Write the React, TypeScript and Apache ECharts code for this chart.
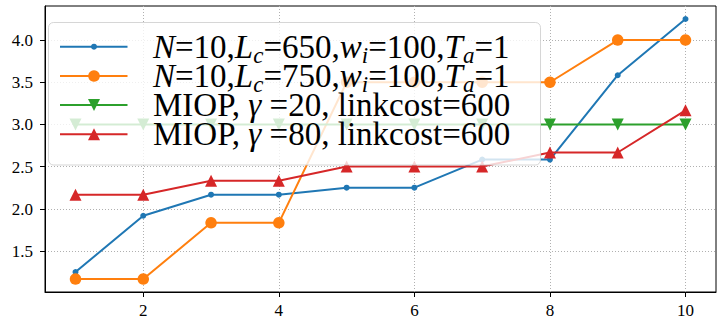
import React, { useEffect, useRef } from "react";
import * as echarts from "echarts";

const xValues = [1, 2, 3, 4, 5, 6, 7, 8, 9, 10];
const blueValues = [1.25, 1.917, 2.167, 2.167, 2.25, 2.25, 2.583, 2.583, 3.583, 4.25];
const orangeValues = [1.167, 1.167, 1.833, 1.833, 3.5, 3.5, 3.5, 3.5, 4.0, 4.0];
const greenValues = [3, 3, 3, 3, 3, 3, 3, 3, 3, 3];
const redValues = [2.167, 2.167, 2.333, 2.333, 2.5, 2.5, 2.5, 2.667, 2.667, 3.167];
const xTicks = [2, 4, 6, 8, 10];
const yTicks = [1.5, 2.0, 2.5, 3.0, 3.5, 4.0];
const X_MIN = 0.55;
const X_MAX = 10.45;
const Y_MIN = 1.013;
const Y_MAX = 4.404;

// legend label segments: [text, kind]  kind: rm = upright, it = italic, sub = italic subscript
const legend1: [string, string][] = [["N", "it"], ["=10,", "rm"], ["L", "it"], ["c", "sub"], ["=650,", "rm"], ["w", "it"], ["i", "sub"], ["=100,", "rm"], ["T", "it"], ["a", "sub"], ["=1", "rm"]];
const legend2: [string, string][] = [["N", "it"], ["=10,", "rm"], ["L", "it"], ["c", "sub"], ["=750,", "rm"], ["w", "it"], ["i", "sub"], ["=100,", "rm"], ["T", "it"], ["a", "sub"], ["=1", "rm"]];
const legend3: [string, string][] = [["MIOP, ", "rm"], ["γ", "it"], [" =20, linkcost=600", "rm"]];
const legend4: [string, string][] = [["MIOP, ", "rm"], ["γ", "it"], [" =80, linkcost=600", "rm"]];
const legendRows = [legend1, legend2, legend3, legend4];

const COLORS = ["#1f77b4", "#ff7f0e", "#2ca02c", "#d62728"];
const FONT = "Liberation Serif";

function pairs(vals: number[]) {
  return xValues.map((x, i) => [x, vals[i]]);
}

export default function App() {
  const ref = useRef<HTMLDivElement>(null);
  useEffect(() => {
    if (!ref.current) return;
    const chart = echarts.init(ref.current, null, { renderer: "svg" });

    const axisCommon = {
      axisLine: { show: true, onZero: false, lineStyle: { color: "#000", width: 1 } },
      splitLine: { show: true, lineStyle: { color: "#b0b0b0", type: [1, 2], width: 1 } },
    };

    chart.setOption({
      animation: false,
      grid: { left: 45, right: 2, top: 6, bottom: 30, show: true, borderColor: "#000", borderWidth: 1 },
      xAxis: {
        type: "value",
        min: X_MIN,
        max: X_MAX,
        ...axisCommon,
        axisTick: { show: true, customValues: xTicks, length: 5, lineStyle: { color: "#000" } },
        axisLabel: { show: false, customValues: xTicks },
      },
      yAxis: {
        type: "value",
        min: Y_MIN,
        max: Y_MAX,
        ...axisCommon,
        axisTick: { show: true, customValues: yTicks, length: 5, lineStyle: { color: "#000" } },
        axisLabel: { show: false, customValues: yTicks },
      },
      series: [
        {
          type: "line",
          data: pairs(blueValues),
          symbol: "circle",
          symbolSize: 6,
          lineStyle: { color: COLORS[0], width: 2 },
          itemStyle: { color: COLORS[0] },
        },
        {
          type: "line",
          data: pairs(orangeValues),
          symbol: "circle",
          symbolSize: 11.5,
          lineStyle: { color: COLORS[1], width: 2 },
          itemStyle: { color: COLORS[1] },
        },
        {
          type: "line",
          data: pairs(greenValues),
          symbol: "triangle",
          symbolRotate: 180,
          symbolSize: 12,
          lineStyle: { color: COLORS[2], width: 2 },
          itemStyle: { color: COLORS[2] },
        },
        {
          type: "line",
          data: pairs(redValues),
          symbol: "triangle",
          symbolSize: 12,
          lineStyle: { color: COLORS[3], width: 2 },
          itemStyle: { color: COLORS[3] },
        },
      ],
    });

    const canvas = document.createElement("canvas");
    const ctx = canvas.getContext("2d");
    const measure = (text: string, size: number, italic: boolean) => {
      if (!ctx) return text.length * size * 0.5;
      ctx.font = `${italic ? "italic " : ""}${size}px "${FONT}"`;
      return ctx.measureText(text).width;
    };

    const graphics: any[] = [];

    // tick labels placed through the chart's own scales
    xTicks.forEach((v) => {
      const p = chart.convertToPixel({ gridIndex: 0 }, [v, Y_MIN]) as number[];
      graphics.push({
        type: "text",
        x: p[0],
        y: p[1] + 18.5,
        style: { text: String(v), fontFamily: FONT, fontSize: 17, fill: "#000", align: "center", verticalAlign: "middle" },
        z: 50,
      });
    });
    yTicks.forEach((v) => {
      const p = chart.convertToPixel({ gridIndex: 0 }, [X_MIN, v]) as number[];
      graphics.push({
        type: "text",
        x: p[0] - 12,
        y: p[1] + 0.5,
        style: { text: v.toFixed(1), fontFamily: FONT, fontSize: 17, fill: "#000", align: "right", verticalAlign: "middle" },
        z: 50,
      });
    });

    // legend box
    graphics.push({
      type: "rect",
      shape: { x: 48.5, y: 22.5, width: 492, height: 142.5, r: 5 },
      style: { fill: "rgba(255,255,255,0.8)", stroke: "rgba(204,204,204,0.8)", lineWidth: 1 },
      z: 100,
    });
    const rowY = [46.7, 76, 105, 134.3];
    const markerX = 94;
    rowY.forEach((y, i) => {
      graphics.push({
        type: "line",
        shape: { x1: 60, y1: y, x2: 127.5, y2: y },
        style: { stroke: COLORS[i], lineWidth: 2 },
        z: 101,
      });
      let marker: any;
      if (i === 0) marker = { type: "circle", shape: { cx: markerX, cy: y, r: 3 }, style: { fill: COLORS[i] }, z: 102 };
      else if (i === 1) marker = { type: "circle", shape: { cx: markerX, cy: y, r: 5.8 }, style: { fill: COLORS[i] }, z: 102 };
      else if (i === 2)
        marker = {
          type: "polygon",
          shape: { points: [[markerX - 6, y - 6], [markerX + 6, y - 6], [markerX, y + 6]] },
          style: { fill: COLORS[i] },
          z: 102,
        };
      else
        marker = {
          type: "polygon",
          shape: { points: [[markerX - 6, y + 6], [markerX + 6, y + 6], [markerX, y - 6]] },
          style: { fill: COLORS[i] },
          z: 102,
        };
      graphics.push(marker);

      let cx = 153;
      legendRows[i].forEach(([t, kind]) => {
        const isSub = kind === "sub";
        const size = isSub ? 23 : 33;
        const italic = kind !== "rm";
        const style: any = {
          text: t,
          fontFamily: FONT,
          fontSize: size,
          fill: "#000",
          align: "left",
          verticalAlign: "middle",
        };
        if (italic) style.fontStyle = "italic";
        graphics.push({
          type: "text",
          x: cx,
          y: isSub ? y + 8.5 : y,
          style,
          z: 101,
        });
        cx += measure(t, size, italic);
      });
    });

    chart.setOption({ graphic: graphics });
    return () => chart.dispose();
  }, []);
  return (
    <>
      <style>{`#root svg text, #root svg tspan { font-family: "Liberation Serif", serif !important; }`}</style>
      <div ref={ref} style={{ position: "fixed", left: 0, top: 0, width: 718, height: 322, background: "#fff" }} />
    </>
  );
}
